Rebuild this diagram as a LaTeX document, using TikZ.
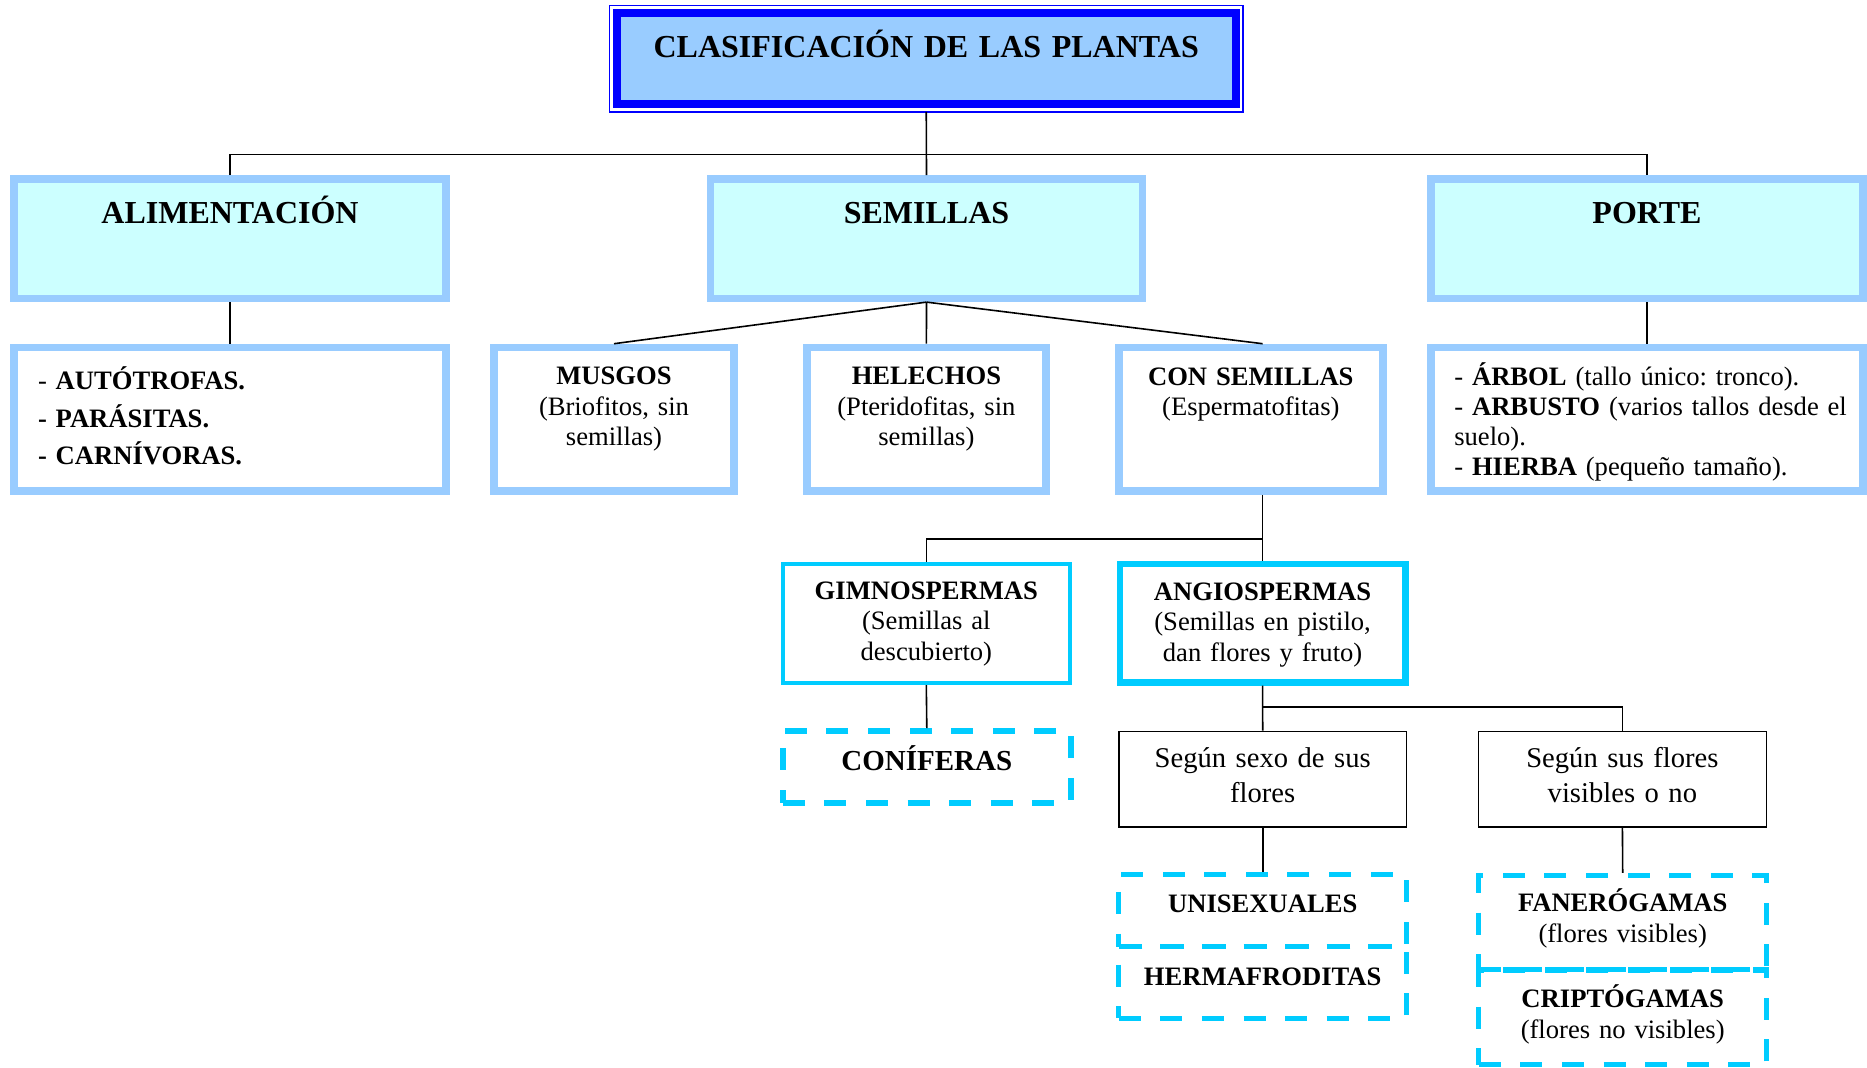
\documentclass[tikz,border=0pt]{standalone}
\usepackage{fontspec}
\setmainfont{Liberation Serif}
\usepackage{tikz}
\frenchspacing

\begin{document}
\begin{tikzpicture}
			[x=0.5pt,y=-0.5pt,
			%Styles
			connector/.style={line width=0.8pt},
			mainbox/.style={draw=titleblue,fill=titlefill,line width=4pt,outer sep=3.8pt,inner xsep=8pt,inner ysep=0pt,
				text width=293.25pt,align=center,text height=22.15pt,text depth=23.45pt,
				font=\fontsize{16}{19}\selectfont\bfseries},
			branchbox/.style={draw=paleblue,fill=palecyan,line width=3.8pt,inner xsep=8pt,inner ysep=0pt,
				text width=200pt,align=center,text height=22.15pt,text depth=37.5pt,
				font=\fontsize{16}{19}\selectfont\bfseries},
			groupbox/.style={draw=paleblue,fill=white,line width=3.8pt,inner xsep=8pt,inner ysep=0pt,
				align=center,font=\fontsize{13.3}{15.4}\selectfont},
			seedbox/.style={draw=seedcyan,fill=white,inner xsep=8pt,inner ysep=0pt,
				align=center,font=\fontsize{13.3}{15.4}\selectfont},
			rulebox/.style={draw=black,line width=0.8pt,inner xsep=8pt,inner ysep=0pt,
				align=center,font=\fontsize{14.3}{17.3}\selectfont},
			typebox/.style={draw=seedcyan,line width=2.7pt,dash pattern=on 11pt off 9.8pt,inner xsep=8pt,inner ysep=0pt,
				text width=128pt,align=center,font=\fontsize{13.3}{15.4}\selectfont}
			]
			
			%Colors
			\definecolor{titleblue}{HTML}{0000FF}
			\definecolor{titlefill}{HTML}{99CCFF}
			\definecolor{paleblue}{HTML}{99CCFF}
			\definecolor{palecyan}{HTML}{CCFFFF}
			\definecolor{seedcyan}{HTML}{00CCFF}
			
			\useasboundingbox (0,0) rectangle (1867,1067);
			
			%The graphic
			\node[mainbox] (title) at (926.25,58.6) {CLASIFICACIÓN DE LAS PLANTAS};
			\draw[titleblue,line width=0.75pt] (title.north west) rectangle (title.south east);
			
			\node[branchbox] (alim) at (230,238.65) {ALIMENTACIÓN};
			\node[branchbox] (semillas) at (926.5,238.65) {SEMILLAS};
			\node[branchbox] (porte) at (1647,238.65) {PORTE};
			
			\node[groupbox,align=left,inner xsep=12pt,text width=192pt,text height=20.9pt,text depth=50.85pt,
				font=\fontsize{13.3}{18.9}\selectfont] (tipos) at (230,419.25)
				{- \textbf{AUTÓTROFAS.}\\\textbf{- PARÁSITAS.}\\\textbf{- CARNÍVORAS.}};
			\node[groupbox,text width=104pt,text height=18.4pt,text depth=53.35pt] (musgos) at (614,419.25)
				{\textbf{MUSGOS}\\(Briofitos, sin\\semillas)};
			\node[groupbox,text width=103.7pt,text height=18.4pt,text depth=53.35pt] (helechos) at (926.4,419.25)
				{\textbf{HELECHOS}\\(Pteridofitas, sin\\semillas)};
			\node[groupbox,text width=116pt,text height=18.75pt,text depth=53pt] (consem) at (1250.8,419.25)
				{\textbf{CON SEMILLAS}\\(Espermatofitas)};
			\node[groupbox,align=left,inner xsep=11.65pt,text width=192.7pt,text height=18.75pt,text depth=53pt,
				font=\fontsize{13.3}{15}\selectfont] (tamanos) at (1647,419.25)
				{- \textbf{ÁRBOL} (tallo único: tronco).\\\mbox{- \textbf{ARBUSTO} (varios tallos desde el}\\suelo).\\- \textbf{HIERBA} (pequeño tamaño).};
			
			\node[seedbox,line width=2.15pt,text width=127.5pt,text height=17.6pt,text depth=42pt] (gimno) at (926.3,623.4)
				{\textbf{GIMNOSPERMAS}\\(Semillas al\\descubierto)};
			\node[seedbox,line width=3.1pt,text width=126.9pt,text height=18.15pt,text depth=41.25pt] (angio) at (1262.6,623.1)
				{\textbf{ANGIOSPERMAS}\\(Semillas en pistilo,\\dan flores y fruto)};
			
			\node[typebox,text height=20pt,text depth=16pt,font=\fontsize{14.5}{17}\selectfont\bfseries] (coniferas) at (926.8,766.8) {CONÍFERAS};
			
			\node[rulebox,text width=127.75pt,text height=18.1pt,text depth=29.5pt] (sexo) at (1262.7,779.1) {Según sexo de sus\\flores};
			\node[rulebox,text width=128pt,text height=18.1pt,text depth=29.5pt] (visib) at (1622.4,779.1) {Según sus flores\\visibles o no};
			
			\node[typebox,text height=19.1pt,text depth=17pt] (unisex) at (1262.7,910.6) {\textbf{UNISEXUALES}};
			\node[typebox,text height=19.15pt,text depth=16.65pt] (herma) at (1262.7,982.5) {\textbf{HERMAFRODITAS}};
			\node[typebox,text height=18.1pt,text depth=28.9pt] (faner) at (1622.7,922.5) {\textbf{FANERÓGAMAS}\\(flores visibles)};
			\node[typebox,text height=18.65pt,text depth=28.6pt] (cript) at (1622.7,1017.25) {\textbf{CRIPTÓGAMAS}\\(flores no visibles)};
			
			%Connectors
			\coordinate (bus1) at (926.5,154.3);
			\coordinate (bus2) at (1262.6,539);
			\coordinate (bus3) at (1262.7,706.7);
			
			\draw[connector] (title.south) -- (semillas.north);
			\draw[connector] (alim.north) |- (bus1) -| (porte.north);
			\path[connector]
				(alim) edge (tipos)
				(porte) edge (tamanos)
				(semillas.south) edge (musgos.north)
					edge (helechos.north)
					edge (consem.north -| angio.north);
			\draw[connector] (consem.south -| angio.north) -- (angio.north);
			\draw[connector] (gimno.north) |- (bus2);
			\draw[connector] (gimno.south) -- (coniferas.north);
			\draw[connector] (angio.south) -- (sexo.north);
			\draw[connector] (bus3) -| (visib.north);
			\draw[connector] (sexo.south) -- (unisex.north);
			\draw[connector] (visib.south) -- (faner.north);
		\end{tikzpicture}
\end{document}
